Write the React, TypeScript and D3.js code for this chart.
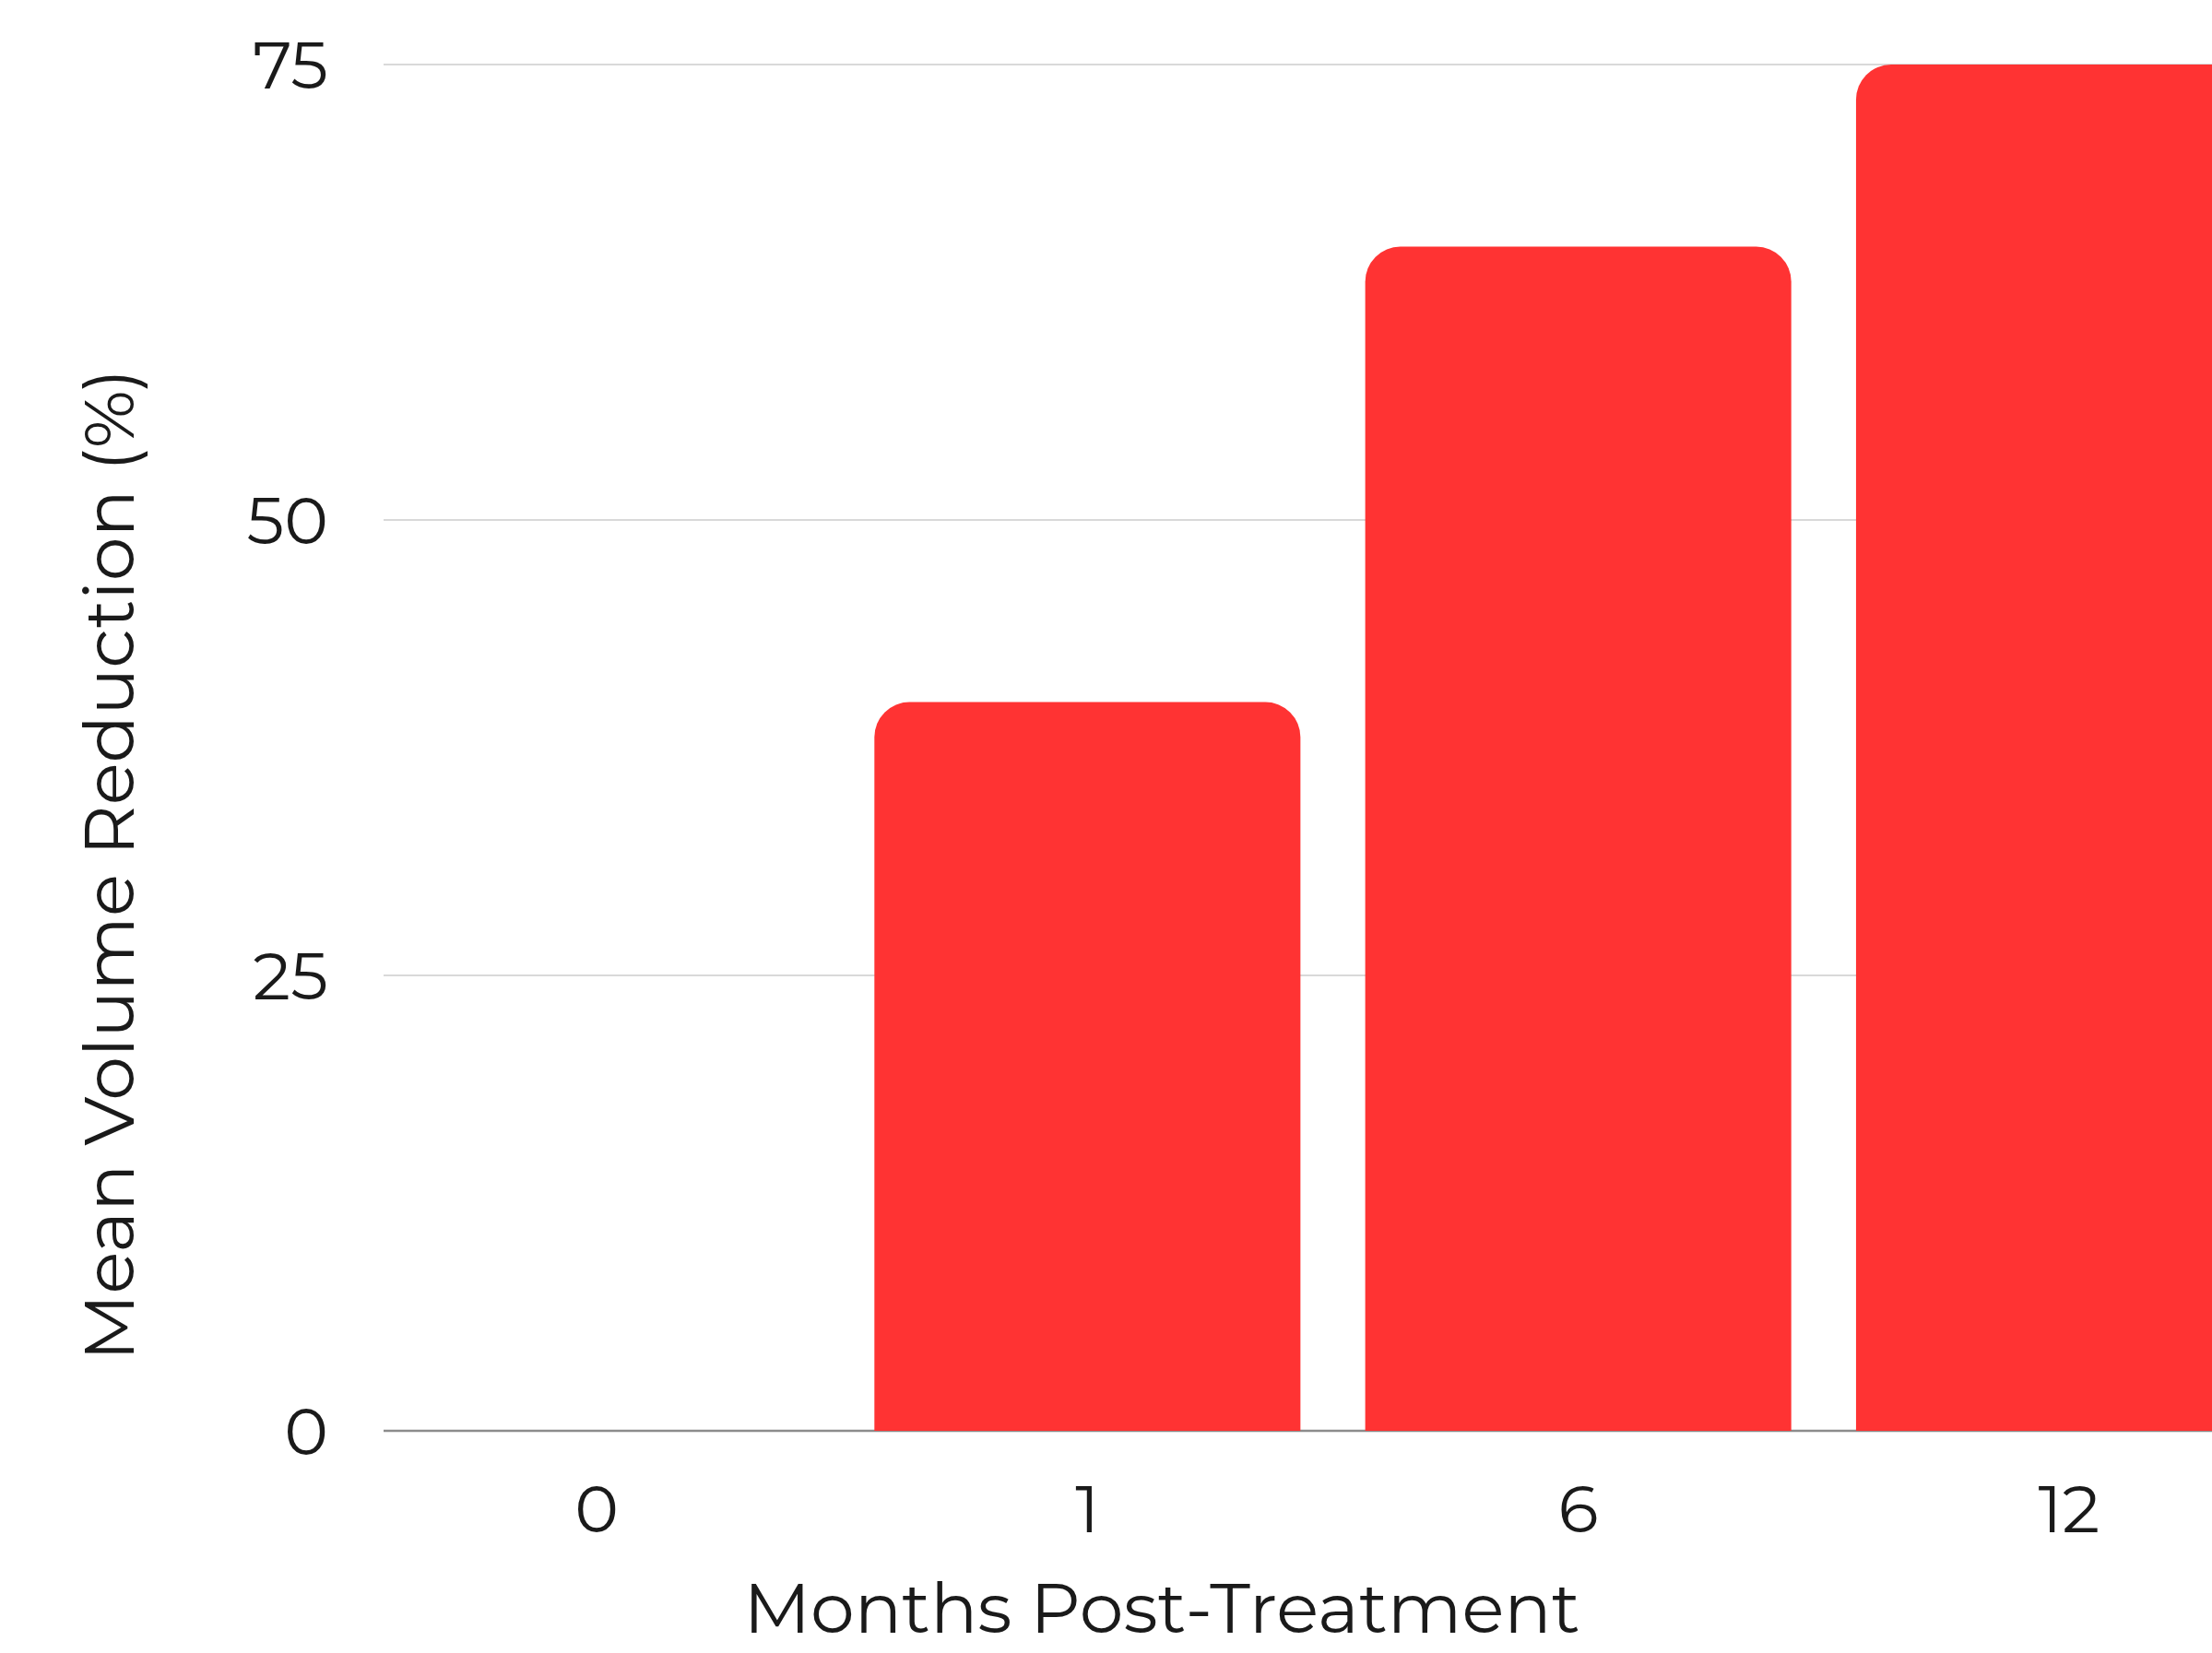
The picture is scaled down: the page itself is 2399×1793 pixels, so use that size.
import React from "react";
import * as d3 from "d3";

const months: string[] = ["0", "1", "6", "12"];
const reduction: number[] = [0, 40, 65, 75];
const yTicks: number[] = [0, 25, 50, 75];
const xTitle = "Months Post-Treatment";
const yTitle = "Mean Volume Reduction (%)";

const W = 2399;
const H = 1793;
const FONT = "Montserrat, Inter, 'Noto Sans', sans-serif";

function topRoundedBar(x: number, y: number, w: number, h: number, r: number): string {
  if (h <= 0) return "";
  const rr = Math.min(r, h, w / 2);
  const p = d3.path();
  p.moveTo(x, y + h);
  p.lineTo(x, y + rr);
  p.arcTo(x, y, x + rr, y, rr);
  p.lineTo(x + w - rr, y);
  p.arcTo(x + w, y, x + w, y + rr, rr);
  p.lineTo(x + w, y + h);
  p.closePath();
  return p.toString();
}

export default function App() {
  const x = d3.scaleBand<string>().domain(months).range([416, 2475]).paddingInner(0.132).paddingOuter(0);
  const y = d3.scaleLinear().domain([0, 75]).range([1552, 70]);

  return (
    <svg width={W} height={H} style={{ position: "absolute", left: 0, top: 0, background: "#fff" }}>
      <rect x={0} y={0} width={W} height={H} fill="#fff" />
      {yTicks.map((t) => (
        <g key={t}>
          <line
            x1={416}
            x2={W}
            y1={y(t)}
            y2={y(t)}
            stroke={t === 0 ? "#8c8c8c" : "#d9d9d9"}
            strokeWidth={t === 0 ? 2.5 : 2}
          />
          <text
            x={356}
            y={y(t)}
            textAnchor="end"
            dominantBaseline="central"
            fontFamily={FONT}
            fontSize={72}
            fill="#1a1a1a"
          >
            {t}
          </text>
        </g>
      ))}
      {months.map((m, i) => (
        <path
          key={m}
          d={topRoundedBar(x(m)!, y(reduction[i]), x.bandwidth(), y(0) - y(reduction[i]), 38)}
          fill="#ff3333"
        />
      ))}
      {months.map((m) => (
        <text
          key={m}
          x={x(m)! + x.bandwidth() / 2}
          y={1636}
          textAnchor="middle"
          dominantBaseline="central"
          fontFamily={FONT}
          fontSize={72}
          fill="#1a1a1a"
        >
          {m}
        </text>
      ))}
      <text
        x={1260}
        y={1771}
        textAnchor="middle"
        fontFamily={FONT}
        fontSize={76}
        fill="#1a1a1a"
      >
        {xTitle}
      </text>
      <text
        transform={`translate(145, 938) rotate(-90)`}
        textAnchor="middle"
        fontFamily={FONT}
        fontSize={76}
        fill="#1a1a1a"
      >
        {yTitle}
      </text>
    </svg>
  );
}
